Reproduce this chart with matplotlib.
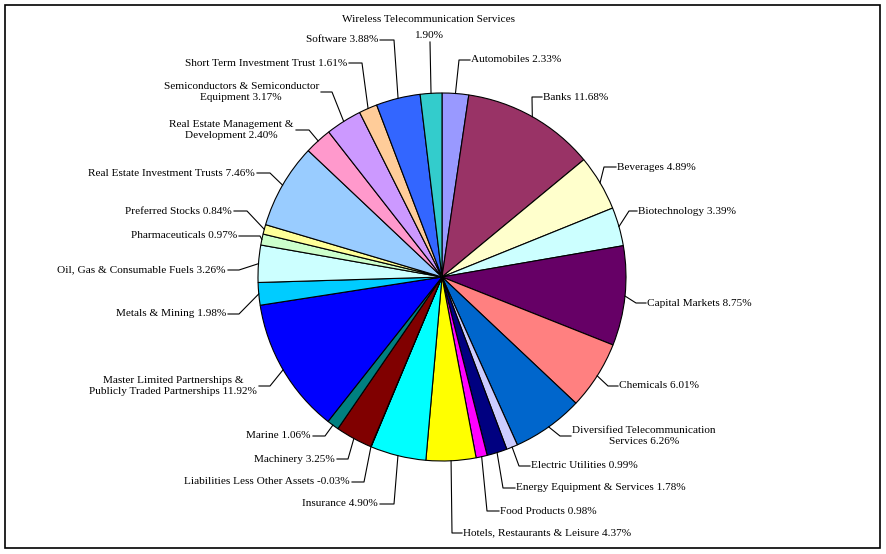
import numpy as np
import matplotlib
matplotlib.use("Agg")
import matplotlib.pyplot as plt
import matplotlib.patches as patches

plt.rcParams['font.family'] = ['Liberation Serif', 'DejaVu Serif']

# Sector weights (% of net assets), clockwise from 12 o'clock
sectors = ['Automobiles', 'Banks', 'Beverages', 'Biotechnology', 'Capital Markets',
           'Chemicals', 'Diversified Telecommunication\nServices', 'Electric Utilities',
           'Energy Equipment & Services', 'Food Products',
           'Hotels, Restaurants & Leisure', 'Insurance',
           'Liabilities Less Other Assets', 'Machinery', 'Marine',
           'Master Limited Partnerships &\nPublicly Traded Partnerships',
           'Metals & Mining', 'Oil, Gas & Consumable Fuels', 'Pharmaceuticals',
           'Preferred Stocks', 'Real Estate Investment Trusts',
           'Real Estate Management &\nDevelopment',
           'Semiconductors & Semiconductor\nEquipment',
           'Short Term Investment Trust', 'Software',
           'Wireless Telecommunication Services']
weights = [2.33, 11.68, 4.89, 3.39, 8.75, 6.01, 6.26, 0.99, 1.78, 0.98, 4.37, 4.90,
           -0.03, 3.25, 1.06, 11.92, 1.98, 3.26, 0.97, 0.84, 7.46, 2.40, 3.17, 1.61,
           3.88, 1.90]

# old Excel chart palette
colors = ['#9999FF', '#993366', '#FFFFCC', '#CCFFFF', '#660066', '#FF8080',
          '#0066CC', '#CCCCFF', '#000080', '#FF00FF', '#FFFF00', '#00FFFF',
          '#800080', '#800000', '#008080', '#0000FF', '#00CCFF', '#CCFFFF',
          '#CCFFCC', '#FFFF99', '#99CCFF', '#FF99CC', '#CC99FF', '#FFCC99',
          '#3366FF', '#33CCCC']

# label layout in pixels (x, y from top, ha, elbow x, elbow y)
layout = [(471, 60, 'left', 459, 60), (543, 97, 'left', 532, 97),
          (617, 167, 'left', 604, 167), (638, 211, 'left', 629, 211),
          (647, 303, 'left', 636, 303), (619, 386, 'left', 608, 386),
          (572, 436, 'left', 560, 436), (531, 466, 'left', 519, 466),
          (516, 488, 'left', 503, 488), (500, 511, 'left', 487, 511),
          (463, 533, 'left', 452, 533), (378, 504, 'right', 394, 504),
          (350, 482, 'right', 364, 482), (335, 459, 'right', 348, 459),
          (311, 436, 'right', 325, 436), (257, 386, 'right', 270, 386),
          (226, 314, 'right', 239, 314), (226, 270, 'right', 239, 270),
          (237, 236, 'right', 260, 236), (232, 211, 'right', 247, 211),
          (255, 173, 'right', 270, 173), (294, 130, 'right', 309, 130),
          (319, 92, 'right', 332, 92), (347, 63, 'right', 362, 63),
          (378, 40, 'right', 394, 40), (429, 27, 'center', 430, 42)]

W, H = 886, 554
cx, cy, R = 442, 277, 184

fig = plt.figure(figsize=(W / 100, H / 100), dpi=100)
ax = fig.add_axes([0, 0, 1, 1])

wedges, _ = ax.pie(np.abs(weights), colors=colors, startangle=90, counterclock=False,
                   radius=R, center=(cx, H - cy),
                   wedgeprops=dict(edgecolor='black', linewidth=0.8))

for w, name, val, (tx, ty, ha, ex, ey) in zip(wedges, sectors, weights, layout):
    mid = np.deg2rad((w.theta1 + w.theta2) / 2)
    px, py = cx + R * np.cos(mid), (H - cy) + R * np.sin(mid)
    if ha == 'left':
        end = tx - 1
    elif ha == 'right':
        end = tx + 2
    else:
        end = ex
    ax.plot([px, ex, end], [py, H - ey, H - ey], color='black', lw=0.8)
    if ha == 'center':
        # name and value on separate lines above the slice
        ax.text(tx, H - (ty - 8), name, ha='center', va='center', fontsize=8.1)
        ax.text(tx, H - (ty + 8), f'{val:.2f}%', ha='center', va='center', fontsize=8.1)
    else:
        ax.text(tx, H - ty, f'{name} {val:.2f}%', ha=ha, va='center',
                multialignment='center', linespacing=1.4, fontsize=8.1)

box = patches.Rectangle((5, H - 548), 875, 543, linewidth=1.2,
                        edgecolor='black', facecolor='none')
ax.add_patch(box)

ax.set_xlim(0, W)
ax.set_ylim(0, H)
ax.set_aspect('auto')
ax.axis('off')

fig.savefig('out.png', dpi=100)
